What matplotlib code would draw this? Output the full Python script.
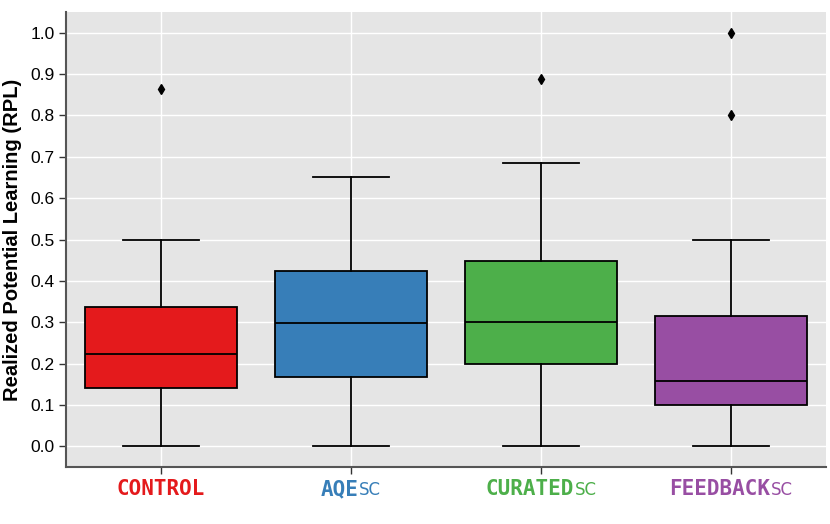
import matplotlib
matplotlib.use("Agg")
import matplotlib.pyplot as plt
import matplotlib.transforms as mtransforms

# values
groups = ["CONTROL", "AQE", "CURATED", "FEEDBACK"]
suffixes = ["", "SC", "SC", "SC"]
colors = ["#E41A1C", "#377EB8", "#4DAF4A", "#984EA3"]
q1 = [0.140, 0.167, 0.200, 0.099]
med = [0.222, 0.297, 0.300, 0.157]
q3 = [0.336, 0.423, 0.449, 0.316]
whislo = [0.0, 0.0, 0.0, 0.0]
whishi = [0.50, 0.65, 0.684, 0.50]
fliers = [[0.865], [], [0.889], [0.80, 1.00]]

stats = []
for i in range(len(groups)):
    stats.append({"q1": q1[i], "med": med[i], "q3": q3[i],
                  "whislo": whislo[i], "whishi": whishi[i],
                  "fliers": fliers[i], "label": groups[i]})

fig = plt.figure(figsize=(8.3, 5.24), dpi=100)
ax = fig.add_axes([0.0795, 0.1088, 0.9155, 0.8682])
ax.set_facecolor("#E5E5E5")

bp = ax.bxp(stats, positions=range(len(groups)), widths=0.8, patch_artist=True,
            boxprops=dict(edgecolor="black", linewidth=1.3),
            medianprops=dict(color="black", linewidth=1.3),
            whiskerprops=dict(color="black", linewidth=1.3),
            capprops=dict(color="black", linewidth=1.3),
            flierprops=dict(marker="d", markerfacecolor="black", markeredgecolor="black",
                            markersize=5))
for patch, c in zip(bp["boxes"], colors):
    patch.set_facecolor(c)
for cap in bp["caps"]:
    x0, x1 = cap.get_xdata()
    mid = (x0 + x1) / 2
    cap.set_xdata([mid - 0.2, mid + 0.2])

ax.set_xlim(-0.5, 3.5)
ax.set_ylim(-0.05, 1.05)
ax.set_yticks([i / 10 for i in range(11)])
ax.set_yticklabels([f"{i / 10:.1f}" for i in range(11)], fontsize=12.5,
                   family="Liberation Sans")
ax.set_axisbelow(True)
ax.grid(True, color="white", linewidth=1)
ax.set_xticks(range(len(groups)))
ax.set_xticklabels([])
ax.tick_params(axis="both", color="#333333", length=5, width=1, pad=3)

for side in ["top", "right"]:
    ax.spines[side].set_visible(False)
for side in ["left", "bottom"]:
    ax.spines[side].set_color("#555555")
    ax.spines[side].set_linewidth(1.5)

ax.set_ylabel("Realized Potential Learning (RPL)", fontsize=14.5, fontweight="bold",
              family="Liberation Sans", labelpad=6)

# colored two-part tick labels, centred under each tick
fig.canvas.draw()
renderer = fig.canvas.get_renderer()
y_base = 18 / 100 * 0 + (524 - 495) / 524
for i, (g, s, c) in enumerate(zip(groups, suffixes, colors)):
    t1 = fig.text(0, y_base, g, ha="left", va="baseline",
                  fontsize=15, fontweight="bold", family="DejaVu Sans Mono", color=c)
    parts = [t1]
    if s:
        t2 = fig.text(0, y_base, s, ha="left", va="baseline", fontsize=12,
                      family=["Liberation Sans Narrow", "DejaVu Sans"], color=c)
        parts.append(t2)
    widths = [p.get_window_extent(renderer).width for p in parts]
    center = ax.transData.transform((i, 0))[0]
    x = center - (sum(widths) + 1 * (len(parts) - 1)) / 2
    for p, w in zip(parts, widths):
        p.set_x(x / fig.bbox.width)
        x += w + 1

fig.savefig("out.png", dpi=100)
